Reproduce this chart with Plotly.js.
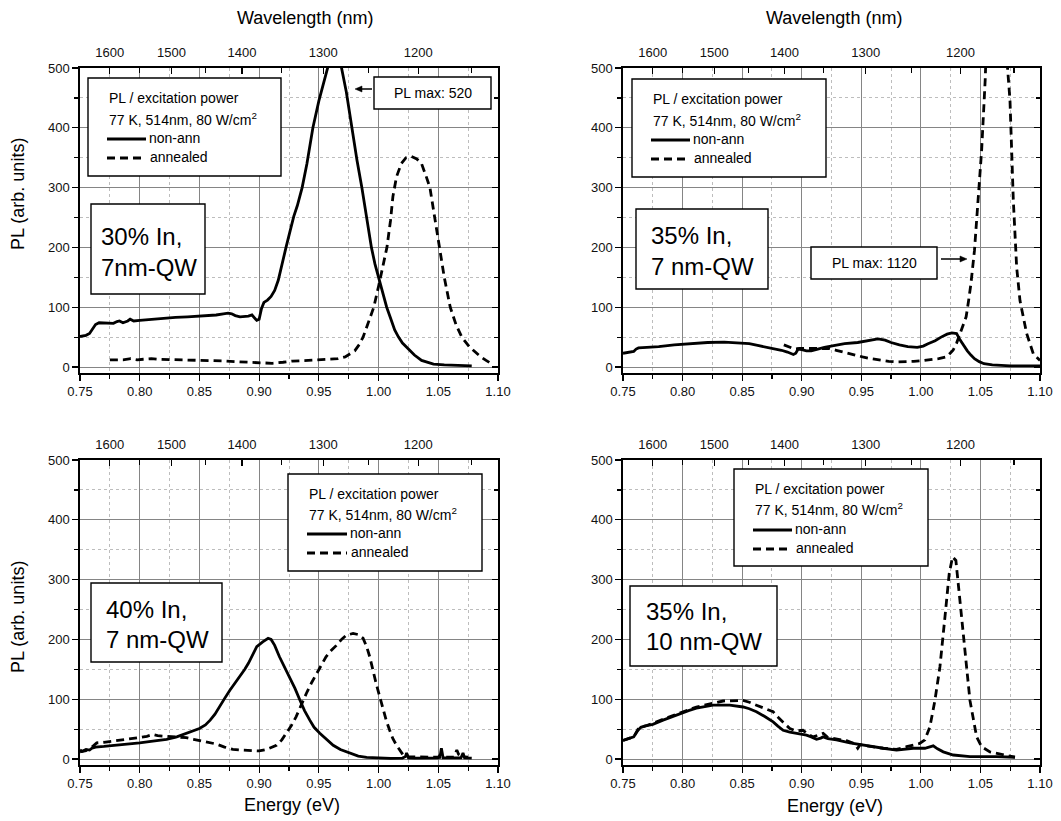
<!DOCTYPE html>
<html>
<head>
<meta charset="utf-8">
<script src="https://cdn.plot.ly/plotly-3.0.1.min.js"></script>
<style>
  html, body { margin: 0; padding: 0; background: #fff; }
  #chart { width: 1061px; height: 821px; }
</style>
</head>
<body>
<div id="chart"></div>
<script>
// ---- Photoluminescence spectra, 77 K, 514 nm, 80 W/cm^2 ----

// Wavelength ticks for the top axes (nm)
const wavelengthMajor = [1600, 1500, 1400, 1300, 1200];
const wavelengthMinor = [1550, 1450, 1350, 1250, 1150];

// 30% In, 7nm-QW
const e30_7_nonann = [0.750,0.755,0.758,0.761,0.763,0.766,0.772,0.778,0.781,0.783,0.786,0.790,0.792,0.795,0.800,0.805,0.810,0.816,0.823,0.830,0.840,0.850,0.857,0.864,0.870,0.874,0.877,0.880,0.884,0.888,0.891,0.894,0.896,0.898,0.900,0.902,0.904,0.907,0.910,0.913,0.916,0.919,0.9225,0.926,0.929,0.932,0.936,0.940,0.945,0.950,0.955,0.958,0.961,0.964,0.967,0.969,0.973,0.9775,0.982,0.986,0.990,0.994,0.997,1.000,1.004,1.0068,1.010,1.0135,1.0167,1.020,1.025,1.030,1.036,1.042,1.046,1.055,1.065,1.074,1.078];
const pl30_7_nonann = [51,53,56,64,71,74,73,73,76,77,74,77,80,77,78,79,80,81,82,83,84,85,86,87,89,90,89,86,84,85,85,87,83,78,80,98,108,112,118,128,145,172,200,228,252,270,300,340,400,445,485,505,518,520,512,500,460,400,345,300,250,200,172,150,120,100,82,62,50,40,30,20,11,7,5,3.5,3,2.5,2];
const e30_7_ann = [0.775,0.780,0.786,0.7925,0.798,0.803,0.8097,0.815,0.828,0.840,0.853,0.865,0.8725,0.880,0.889,0.900,0.911,0.920,0.928,0.941,0.950,0.960,0.966,0.972,0.976,0.980,0.984,0.987,0.991,0.996,1.000,1.004,1.007,1.010,1.012,1.015,1.019,1.023,1.0275,1.032,1.036,1.040,1.043,1.047,1.051,1.055,1.060,1.065,1.0697,1.076,1.081,1.085,1.090,1.095];
const pl30_7_ann = [12,12,12,14,12,13,14,13,12.5,12,11.7,11,10,9,8.4,7.3,6.2,8,10,11,12,13,14,17,22,27,38,50,72,100,135,172,200,245,285,318,340,350,352,348,340,318,300,250,200,150,100,70,50,34,25,18,11,5];

// 35% In, 7 nm-QW
const e35_7_nonann = [0.750,0.755,0.759,0.761,0.763,0.770,0.780,0.793,0.805,0.821,0.835,0.849,0.856,0.863,0.870,0.877,0.883,0.888,0.893,0.895,0.897,0.900,0.904,0.908,0.913,0.919,0.928,0.936,0.947,0.955,0.960,0.964,0.970,0.975,0.982,0.989,0.997,1.002,1.006,1.012,1.017,1.022,1.026,1.030,1.033,1.036,1.039,1.042,1.045,1.049,1.053,1.060,1.064,1.075,1.085,1.095,1.100];
const pl35_7_nonann = [23,24,26,30,32,33,34,37,39,41,41.5,40.5,39,36,33,31,28,25,21,23,30,29,27,27,30,33,36,39,41,44,46,47,45,41,37,34,33,35,39,44,50,55,57,56,45,35,27,20,14,9,5.6,3.5,2.8,2,2,2,2];
const e35_7_ann = [0.885,0.889,0.894,0.898,0.902,0.906,0.910,0.916,0.923,0.929,0.940,0.951,0.958,0.966,0.973,0.980,0.987,0.994,1.001,1.008,1.015,1.022,1.027,1.030,1.033,1.036,1.038,1.040,1.042,1.045,1.048,1.051,1.054,1.057,1.060,1.063,1.065,1.067,1.069,1.071,1.072,1.0748,1.0776,1.0804,1.0832,1.0888,1.0944,1.100];
const pl35_7_ann = [37,34,30,31,31,30,30,31,31,28,22,17,14,11,9.5,8.5,8.5,9.5,10.5,12,14,17.5,28,40,56,70,84,110,139,195,279,362,480,720,950,1100,1120,1080,900,650,520,446,279,167,111,56,22,11];

// 40% In, 7 nm-QW
const e40_7_nonann = [0.750,0.752,0.755,0.758,0.760,0.763,0.770,0.781,0.790,0.800,0.811,0.8225,0.831,0.839,0.845,0.850,0.855,0.859,0.863,0.867,0.871,0.8755,0.880,0.884,0.888,0.891,0.895,0.898,0.903,0.9075,0.910,0.913,0.917,0.921,0.9257,0.930,0.934,0.938,0.9424,0.946,0.9508,0.956,0.962,0.968,0.976,0.983,0.990,1.000,1.010,1.020,1.0225,1.0235,1.025,1.030,1.040,1.050,1.0518,1.0526,1.054,1.060,1.069,1.0707,1.072,1.078];
const pl40_7_nonann = [15,13,16,15,18,20,21,23,25,27,30,33,37,43,47,51,57,65,75,87,101,115,127,138,150,160,177,188,196,202,200,190,171,155,138,118,99,81,65,53,43,33,23,16,9.5,5,2.8,1.5,1,1.5,4,10,2,1.5,2,2,8,18,2,2,2,10,2,1.5];
const e40_7_ann = [0.750,0.755,0.760,0.764,0.770,0.7807,0.790,0.800,0.806,0.811,0.815,0.8225,0.830,0.839,0.845,0.850,0.857,0.8643,0.871,0.878,0.886,0.895,0.900,0.906,0.9145,0.919,0.923,0.927,0.931,0.935,0.9396,0.944,0.948,0.952,0.956,0.9605,0.9647,0.969,0.973,0.9787,0.983,0.987,0.990,0.9926,0.995,0.998,1.001,1.0038,1.0065,1.0093,1.012,1.015,1.018,1.0205,1.025,1.035,1.045,1.055,1.063,1.0655,1.067,1.070,1.075];
const pl40_7_ann = [12,14,20,27,28,30.6,33,36,38,41,39,38,37,35.7,33,30.6,28,25,20,16,15,14,13.5,16,23,32,43,56,71,90,110,128,143,158,171,182,190,200,207,210,208,202,188,171,150,126,104,82,64,48,34,23,13,7,4,3,3,3,3,15,8,4,3];

// 35% In, 10 nm-QW
const e35_10_nonann = [0.750,0.7556,0.759,0.7626,0.765,0.768,0.775,0.7836,0.790,0.7976,0.805,0.8116,0.8256,0.8396,0.8508,0.856,0.862,0.869,0.876,0.880,0.8844,0.890,0.8956,0.904,0.908,0.9124,0.916,0.918,0.922,0.9292,0.9404,0.9516,0.960,0.9684,0.9796,0.987,0.9936,1.0034,1.0104,1.014,1.0188,1.0272,1.0412,1.0636,1.079];
const pl35_10_nonann = [31,34.5,37,48,53,55,58,65,70,76,81,85,90,90,87,84,79,71,62,55,48,45,43,40,37,33,35,37,34,32,27,23,20,18,15,16,18,18,22,17,12,6.7,4,4,3];
const e35_10_ann = [0.750,0.7556,0.759,0.7626,0.765,0.770,0.775,0.7836,0.790,0.7976,0.8116,0.8256,0.834,0.8508,0.856,0.862,0.869,0.876,0.881,0.887,0.890,0.895,0.901,0.905,0.9096,0.914,0.918,0.922,0.9292,0.9376,0.944,0.947,0.949,0.9516,0.9684,0.9796,0.988,0.999,1.0034,1.0076,1.0118,1.016,1.0202,1.0238,1.0266,1.0294,1.0328,1.037,1.0412,1.0468,1.051,1.058,1.069,1.079];
const pl35_10_ann = [31,35,37,50,53,56,60,66,71,77,87,93,97,98,95,90,85,79,68,57,51,47,48,42,37,40,43,36,33,30.6,26,18,24,23,18,16,20.6,26,32,54,98,154,237,310,338,332,265,182,98,37,20.6,12,6.7,3];

// Panel descriptions: sample label, PL-max callout
const sampleLabels = [["30% In,", "7nm-QW"], ["35% In,", "7 nm-QW"], ["40% In,", "7 nm-QW"], ["35% In,", "10 nm-QW"]];
const legendLines = ["PL / excitation power", "77 K, 514nm, 80 W/cm<sup>2</sup>", "non-ann", "annealed"];
const peakNotes = ["PL max: 520", "PL max: 1120"];

const W = 1061, H = 821;
const HC = 1239.84;               // eV*nm, energy <-> wavelength
const X = px => px / W;           // page pixel -> paper fraction
const Y = py => 1 - py / H;

const FONT = "Liberation Sans, Arial, Helvetica, sans-serif";
const BLACK = "#000";
const LW = 2.8;
const DASH = "8px,5px";

// Plot areas (pixels): [left, right, top, bottom]
const panels = [
  { box: [80, 498, 68, 373],  e: [e30_7_nonann, e30_7_ann],   pl: [pl30_7_nonann, pl30_7_ann] },
  { box: [623, 1040, 68, 373], e: [e35_7_nonann, e35_7_ann],   pl: [pl35_7_nonann, pl35_7_ann] },
  { box: [80, 498, 460, 765], e: [e40_7_nonann, e40_7_ann],   pl: [pl40_7_nonann, pl40_7_ann] },
  { box: [623, 1040, 460, 765], e: [e35_10_nonann, e35_10_ann], pl: [pl35_10_nonann, pl35_10_ann] }
];

const data = [];
const layout = {
  width: W, height: H,
  margin: { l: 0, r: 0, t: 0, b: 0 },
  paper_bgcolor: "#fff", plot_bgcolor: "#fff",
  showlegend: false,
  font: { family: FONT, color: "#111", size: 13 },
  shapes: [], annotations: []
};

const gridMajor = "#858585", gridMinor = "#bdbdbd";

panels.forEach((p, i) => {
  const xb = 2 * i + 1, xt = 2 * i + 2;   // bottom energy axis, top wavelength axis
  const yl = 2 * i + 1, yr = 2 * i + 2;   // left PL axis, right mirror axis
  const [l, r, t, b] = p.box;
  const xd = [X(l), X(r)], yd = [Y(b), Y(t)];

  layout["xaxis" + xb] = {
    domain: xd, anchor: "y" + yl, range: [0.75, 1.10],
    tick0: 0.75, dtick: 0.05, tickformat: ".2f",
    ticks: "outside", ticklen: 6, tickwidth: 1.2, tickcolor: BLACK,
    showline: true, linecolor: BLACK, linewidth: 1.6,
    showgrid: true, gridcolor: gridMajor, gridwidth: 1, zeroline: false,
    minor: { tick0: 0.75, dtick: 0.025, ticks: "outside", ticklen: 4, tickcolor: BLACK,
             showgrid: true, gridcolor: gridMinor, griddash: "dot", gridwidth: 1 },
    tickfont: { size: 13, color: "#111" }, fixedrange: true
  };
  layout["xaxis" + xt] = {
    overlaying: "x" + xb, side: "top", anchor: "y" + yl, range: [0.75, 1.10],
    tickmode: "array",
    tickvals: wavelengthMajor.map(nm => HC / nm),
    ticktext: wavelengthMajor.map(String),
    ticks: "inside", ticklen: 6, tickwidth: 1.2, tickcolor: BLACK, ticklabelstandoff: 4,
    minor: { tickmode: "array", tickvals: wavelengthMinor.map(nm => HC / nm),
             ticks: "inside", ticklen: 5, tickcolor: BLACK, showgrid: false },
    showline: true, linecolor: BLACK, linewidth: 1.6,
    showgrid: false, zeroline: false,
    tickfont: { size: 13, color: "#111" }, fixedrange: true
  };
  layout["yaxis" + yl] = {
    domain: yd, anchor: "x" + xb, range: [-10, 500],
    tick0: 0, dtick: 100,
    ticks: "outside", ticklen: 6, tickwidth: 1.2, tickcolor: BLACK,
    showline: true, linecolor: BLACK, linewidth: 1.6,
    showgrid: true, gridcolor: gridMajor, gridwidth: 1, zeroline: false,
    minor: { tick0: 0, dtick: 50, ticks: "outside", ticklen: 4, tickcolor: BLACK,
             showgrid: true, gridcolor: gridMinor, griddash: "dot", gridwidth: 1 },
    tickfont: { size: 13, color: "#111" }, fixedrange: true
  };
  layout["yaxis" + yr] = {
    overlaying: "y" + yl, side: "right", anchor: "x" + xb, range: [-10, 500],
    tick0: 0, dtick: 100, ticks: "inside", ticklen: 6, tickwidth: 1.2, tickcolor: BLACK,
    minor: { tick0: 0, dtick: 50, ticks: "inside", ticklen: 4, tickcolor: BLACK, showgrid: false },
    showticklabels: false, showline: true, linecolor: BLACK, linewidth: 1.6,
    showgrid: false, zeroline: false, fixedrange: true
  };

  // spectra
  data.push({
    type: "scatter", mode: "lines", x: p.e[0], y: p.pl[0],
    xaxis: "x" + xb, yaxis: "y" + yl, name: "non-ann",
    line: { color: BLACK, width: LW }, hoverinfo: "skip"
  });
  data.push({
    type: "scatter", mode: "lines", x: p.e[1], y: p.pl[1],
    xaxis: "x" + xb, yaxis: "y" + yl, name: "annealed",
    line: { color: BLACK, width: LW, dash: DASH }, hoverinfo: "skip"
  });
  // keep the wavelength axis and the right frame axis active
  data.push({ type: "scatter", mode: "lines", x: [], y: [], xaxis: "x" + xt, yaxis: "y" + yl, showlegend: false, hoverinfo: "skip" });
  data.push({ type: "scatter", mode: "lines", x: [], y: [], xaxis: "x" + xb, yaxis: "y" + yr, showlegend: false, hoverinfo: "skip" });
});

// ---- boxed texts ----
function rect(l, t, r, b) {
  layout.shapes.push({ type: "rect", xref: "paper", yref: "paper",
    x0: X(l), x1: X(r), y0: Y(b), y1: Y(t),
    line: { color: BLACK, width: 1.4 }, fillcolor: "#fff", layer: "above" });
}
function seg(x0, x1, y, dash, width) {
  layout.shapes.push({ type: "line", xref: "paper", yref: "paper",
    x0: X(x0), x1: X(x1), y0: Y(y), y1: Y(y),
    line: { color: BLACK, width: width || LW, dash: dash || "solid" }, layer: "above" });
}
function text(str, x, y, size, anchor, extra) {
  layout.annotations.push(Object.assign({
    text: str, xref: "paper", yref: "paper", x: X(x), y: Y(y),
    xanchor: anchor || "left", yanchor: "middle", showarrow: false,
    font: { family: FONT, size: size, color: BLACK }
  }, extra || {}));
}
function legendBox(l, t, r, b, tx, rows, sampleEnd) {
  rect(l, t, r, b);
  text(legendLines[0], tx, rows[0], 14);
  text(legendLines[1], tx, rows[1], 14);
  seg(tx, sampleEnd, rows[2] + 1);
  text(legendLines[2], sampleEnd + 1, rows[2], 14);
  seg(tx, sampleEnd, rows[3] + 1, DASH);
  text(legendLines[3], sampleEnd + 2, rows[3], 14);
}
function sampleBox(i, l, t, r, b, tx, y1, y2) {
  rect(l, t, r, b);
  text(sampleLabels[i][0], tx, y1, 24);
  text(sampleLabels[i][1], tx, y2, 24);
}
// horizontal pointer: shaft from tail to head plus a filled head
function pointer(tailX, headX, y) {
  const dir = headX > tailX ? 1 : -1;
  const base = headX - dir * 7;
  seg(tailX, base, y, "solid", 1.5);
  layout.shapes.push({ type: "path", xref: "paper", yref: "paper",
    path: `M ${X(headX)} ${Y(y)} L ${X(base)} ${Y(y - 3)} L ${X(base)} ${Y(y + 3)} Z`,
    fillcolor: BLACK, line: { color: BLACK, width: 0.5 }, layer: "above" });
}

legendBox(88, 78, 281, 176, 107, [98, 119, 138, 157], 146);
legendBox(632, 79, 826, 177, 651, [99, 120, 139, 158], 690);
legendBox(288, 474, 482, 571, 307, [494, 514, 533, 552], 347);
legendBox(734, 469, 928, 566, 753, [489, 509, 529, 548], 792);

sampleBox(0, 91, 204, 205, 294, 99, 236, 267);
sampleBox(1, 636, 209, 768, 289, 649, 235, 266);
sampleBox(2, 91, 583, 222, 662, 104, 609, 639);
sampleBox(3, 630, 586, 777, 666, 644, 611, 641);

rect(374, 77, 491, 109);
text(peakNotes[0], 432.5, 93, 14, "center");
pointer(372, 355, 89);

rect(811, 247, 937, 279);
text(peakNotes[1], 874, 263, 14, "center");
pointer(941, 967, 259);

// ---- axis titles ----
text("Wavelength (nm)", 305, 18, 18, "center");
text("Wavelength (nm)", 834, 18, 18, "center");
text("Energy (eV)", 292, 805, 18, "center");
text("Energy (eV)", 835, 806, 18, "center");
text("PL (arb. units)", 18, 194, 18, "center", { textangle: -90 });
text("PL (arb. units)", 18, 617, 18, "center", { textangle: -90 });

Plotly.newPlot("chart", data, layout, { displayModeBar: false, staticPlot: true });
</script>
</body>
</html>
